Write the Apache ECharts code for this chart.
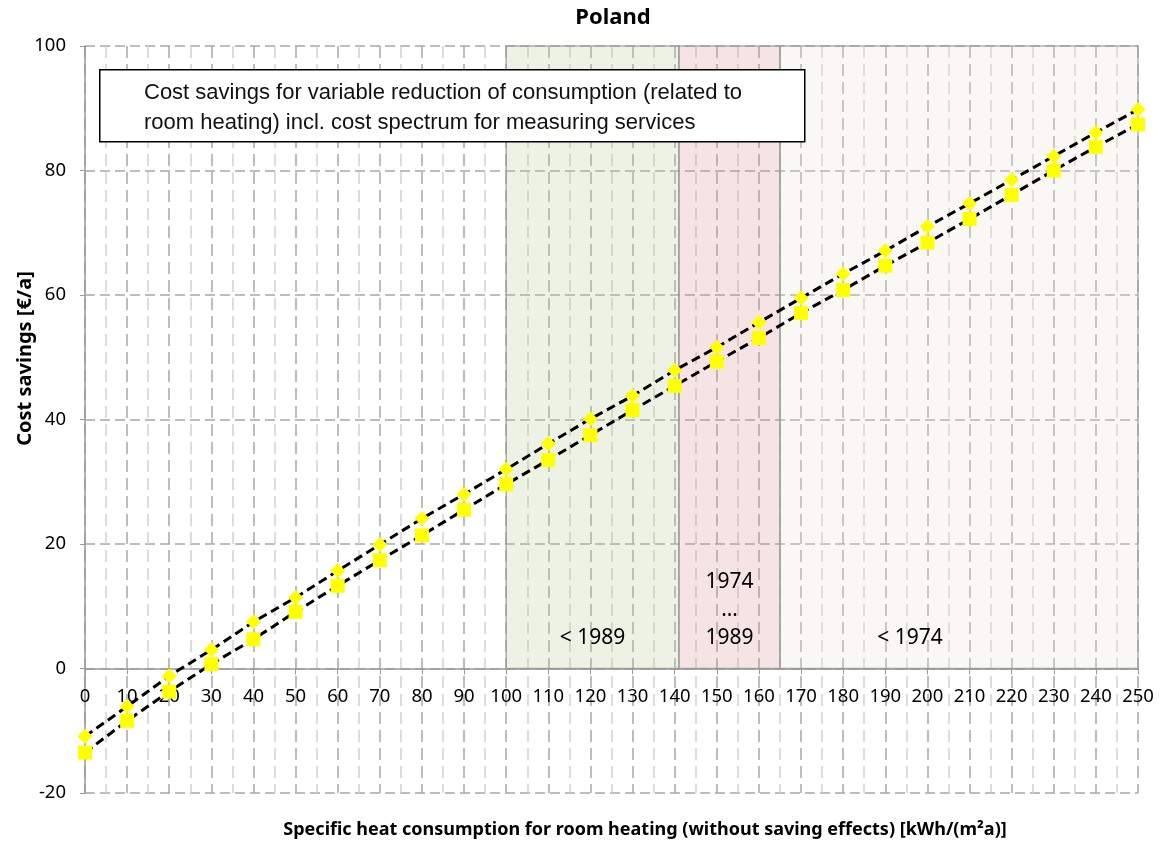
<!DOCTYPE html>
<html>
<head>
<meta charset="utf-8">
<script src="https://cdn.jsdelivr.net/npm/echarts@6/dist/echarts.min.js"></script>
<style>
  html, body { margin: 0; padding: 0; background: #fff; }
  #chart { width: 1165px; height: 845px; }
</style>
</head>
<body>
<div id="chart"></div>
<script>
// heat consumption steps [kWh/(m²a)]
const consumption = [0, 10, 20, 30, 40, 50, 60, 70, 80, 90, 100, 110, 120, 130, 140, 150, 160, 170, 180, 190, 200, 210, 220, 230, 240, 250]
// cost savings [€/a], upper and lower end of the measuring cost spectrum
const savingsHigh = [-10.9, -6.1, -1.2, 3.0, 7.5, 11.4, 15.7, 19.9, 24.1, 28.0, 32.0, 36.1, 40.1, 43.8, 47.9, 51.6, 55.6, 59.5, 63.4, 67.1, 71.0, 74.7, 78.5, 82.3, 86.1, 89.8]
const savingsLow = [-13.5, -8.4, -3.7, 0.7, 4.7, 9.1, 13.3, 17.4, 21.4, 25.5, 29.6, 33.5, 37.5, 41.5, 45.4, 49.3, 53.1, 57.1, 60.8, 64.7, 68.4, 72.2, 76.1, 80.0, 83.8, 87.4]
// building age bands
const bandLabels = ['< 1989', '1974\n…\n1989', '< 1974']
const bandFrom = [100, 141, 165]
const bandTo = [141, 165, 250]
const bandTop = 100
const yTicks = [-20, 0, 20, 40, 60, 80, 100]

const labelFont = '"Noto Sans", "Open Sans", sans-serif'
const bandFills = ['rgba(187,203,147,0.25)', 'rgba(219,147,147,0.25)', 'rgba(231,227,215,0.25)']
const bandOffsets = [[0, 0], [0, 0], [-49, 0]]

const chart = echarts.init(document.getElementById('chart'))

// plot area
const gridTop = 46
const gridBottom = 52
const plotHeight = 845 - gridTop - gridBottom
// x axis sits on y = 0
const zeroOffset = -plotHeight * (0 - yTicks[0]) / (yTicks[yTicks.length - 1] - yTicks[0])

const option = {
  animation: false,
  title: {
    text: 'Poland',
    left: 608,
    top: 2,
    textAlign: 'center',
    textStyle: { fontFamily: labelFont, fontWeight: 'bold', fontSize: 22, color: '#000' }
  },
  grid: { left: 85, right: 27, top: gridTop, bottom: gridBottom, containLabel: false, outerBoundsMode: 'none' },
  xAxis: {
    type: 'value',
    min: 0,
    max: 250,
    interval: 10,
    offset: zeroOffset,
    name: 'Specific heat consumption for room heating (without saving effects) [kWh/(m²a)]',
    nameLocation: 'middle',
    nameGap: 152,
    nameTextStyle: { fontFamily: labelFont, fontWeight: 'bold', fontSize: 18, color: '#000', padding: [0, 0, 0, 67] },
    axisLine: { onZero: false, lineStyle: { color: '#9a9a9a', width: 1.5 } },
    axisTick: { show: true, length: 6, lineStyle: { color: '#9a9a9a' } },
    axisLabel: { fontFamily: labelFont, fontSize: 18.5, color: '#000', margin: 19 },
    splitLine: { show: true, lineStyle: { color: '#a8a8a8', type: [12, 6], width: 1.5 } },
    minorTick: { show: true, splitNumber: 2, length: 0 },
    minorSplitLine: { show: true, lineStyle: { color: '#d2d2d2', type: [12, 6], width: 1.5 } }
  },
  yAxis: {
    type: 'value',
    min: yTicks[0],
    max: yTicks[yTicks.length - 1],
    interval: 20,
    name: 'Cost savings [€/a]',
    nameLocation: 'middle',
    nameGap: 50,
    nameMoveOverlap: false,
    nameTextStyle: { fontFamily: labelFont, fontWeight: 'bold', fontSize: 20, color: '#000', padding: [0, 0, 0, 122] },
    axisLine: { show: true, lineStyle: { color: '#9a9a9a', width: 1.5 } },
    axisTick: { show: true, length: 5, lineStyle: { color: '#9a9a9a' } },
    axisLabel: { fontFamily: labelFont, fontSize: 18.5, color: '#000', margin: 19 },
    splitLine: { show: true, lineStyle: { color: '#a8a8a8', type: [10, 5], width: 1.5 } }
  },
  series: [
    {
      name: 'upper',
      type: 'line',
      z: 3,
      data: consumption.map((x, i) => [x, savingsHigh[i]]),
      symbol: 'diamond',
      symbolSize: 15,
      itemStyle: { color: '#ffff00' },
      lineStyle: { color: '#000', width: 3, type: [9, 5] }
    },
    {
      name: 'lower',
      type: 'line',
      z: 3,
      data: consumption.map((x, i) => [x, savingsLow[i]]),
      symbol: 'rect',
      symbolSize: 14,
      itemStyle: { color: '#ffff00' },
      lineStyle: { color: '#000', width: 3, type: [9, 5] }
    },
    {
      name: 'bands',
      type: 'line',
      z: 5,
      data: [],
      markArea: {
        silent: true,
        data: bandLabels.map((lab, i) => [
          {
            xAxis: bandFrom[i],
            yAxis: 0,
            itemStyle: { color: bandFills[i], borderColor: 'rgba(150,150,150,0.75)', borderWidth: 1.5 },
            label: {
              show: true,
              formatter: lab,
              position: 'insideBottom',
              distance: 17,
              offset: bandOffsets[i],
              color: '#000',
              fontFamily: labelFont,
              fontSize: 21,
              lineHeight: 28,
              align: 'center'
            }
          },
          { xAxis: bandTo[i], yAxis: bandTop }
        ])
      }
    }
  ],
  graphic: [
    {
      type: 'rect',
      z: 100,
      left: 99,
      top: 69,
      shape: { x: 0, y: 0, width: 705, height: 72 },
      style: { fill: '#fff', stroke: '#000', lineWidth: 1.5 }
    },
    {
      type: 'text',
      z: 101,
      left: 144,
      top: 78,
      style: {
        text: 'Cost savings for variable reduction of consumption (related to\nroom heating) incl. cost spectrum for measuring services',
        font: '22px "Liberation Sans", Arial, sans-serif',
        lineHeight: 30,
        fill: '#111'
      }
    }
  ]
}

chart.setOption(option)
</script>
</body>
</html>
